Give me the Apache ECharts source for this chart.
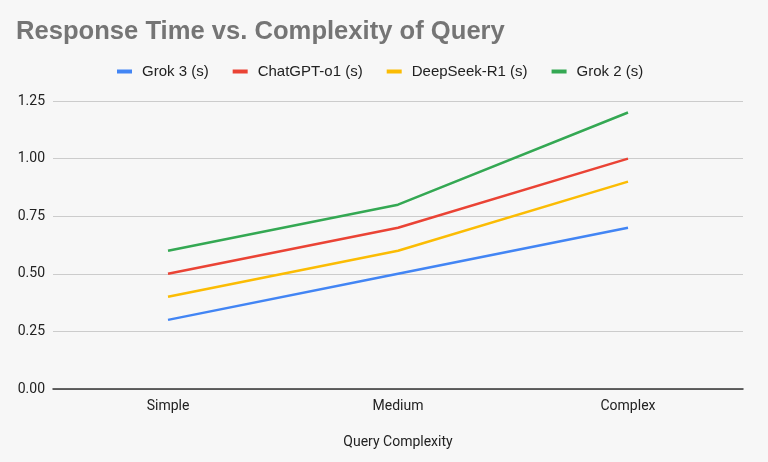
<!DOCTYPE html>
<html>
<head>
<meta charset="utf-8">
<script src="https://cdn.jsdelivr.net/npm/echarts@6/dist/echarts.min.js"></script>
<style>
  html, body { margin: 0; padding: 0; background: #f7f7f7; }
  #chart { width: 768px; height: 462px; }
</style>
</head>
<body>
<div id="chart"></div>
<script>
var categories = ['Simple', 'Medium', 'Complex'];
var grok3 = [0.3, 0.5, 0.7];
var chatgpt = [0.5, 0.7, 1.0];
var deepseek = [0.4, 0.6, 0.9];
var grok2 = [0.6, 0.8, 1.2];

var myChart = echarts.init(document.getElementById('chart'));

function line(name, data, color) {
  return {
    name: name,
    type: 'line',
    data: data,
    symbol: 'none',
    lineStyle: { width: 2.5, color: color },
    itemStyle: { color: color }
  };
}

var option = {
  backgroundColor: '#f7f7f7',
  title: {
    text: 'Response Time vs. Complexity of Query',
    left: 11,
    top: 14,
    textStyle: {
      fontFamily: 'Liberation Sans',
      fontSize: 25.6,
      fontWeight: 'bold',
      color: '#757575'
    }
  },
  legend: {
    top: 59,
    left: 112,
    itemWidth: 15,
    itemHeight: 4,
    itemGap: 24,
    icon: 'rect',
    textStyle: {
      fontFamily: 'Liberation Sans',
      fontSize: 15,
      color: '#222',
      padding: [0, 0, 0, 5]
    }
  },
  grid: { left: 53, right: 25, top: 101, bottom: 73 },
  xAxis: {
    type: 'category',
    data: categories,
    name: 'Query Complexity',
    nameLocation: 'middle',
    nameGap: 46,
    nameTextStyle: { fontFamily: 'Roboto', fontSize: 14, color: '#222' },
    axisTick: { show: false },
    axisLine: { lineStyle: { color: '#333', width: 1.5 } },
    axisLabel: { fontFamily: 'Roboto', fontSize: 14, color: '#222', margin: 10 }
  },
  yAxis: {
    type: 'value',
    min: 0,
    max: 1.25,
    interval: 0.25,
    axisLabel: {
      fontFamily: 'Roboto',
      fontSize: 14,
      color: '#222',
      margin: 8,
      formatter: function (v) { return v.toFixed(2); }
    },
    splitLine: { lineStyle: { color: '#cccccc' } }
  },
  series: [
    line('Grok 3 (s)', grok3, '#4285F4'),
    line('ChatGPT-o1 (s)', chatgpt, '#EA4335'),
    line('DeepSeek-R1 (s)', deepseek, '#FBBC04'),
    line('Grok 2 (s)', grok2, '#34A853')
  ]
};

myChart.setOption(option);
</script>
</body>
</html>
